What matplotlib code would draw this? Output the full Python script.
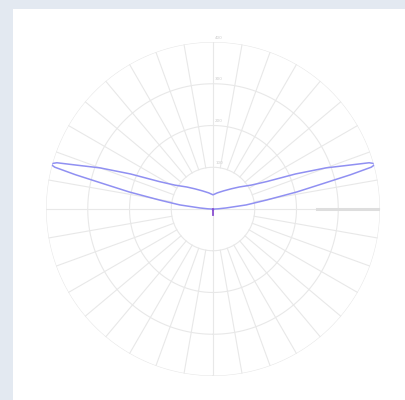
import numpy as np
import matplotlib
matplotlib.use("Agg")
import matplotlib.pyplot as plt

# light distribution, gamma measured from straight down (deg) -> intensity
gamma = [0, 30, 60, 85, 90, 92, 94.5, 97, 99.5, 101.5, 103, 104, 104.8, 105.5, 106.5,
         108, 110, 113, 117, 122, 130, 138, 150, 165, 180]
intensity = [2, 2, 2, 2, 3, 12, 31, 80, 130, 205, 270, 340, 392, 405, 390,
             338, 288, 215, 145, 108, 82, 65, 50, 40, 34]
ring_values = [100, 200, 300, 400]
ring_labels = ["100", "200", "300", "400"]

fig = plt.figure(figsize=(4.05, 4.00), dpi=100)
fig.patch.set_facecolor("#e3e9f1")
# white panel
panel = fig.add_axes([13 / 405, 0, 1 - 13 / 405, 1 - 9 / 400])
panel.set_facecolor("white")
panel.set_xticks([])
panel.set_yticks([])
for s in panel.spines.values():
    s.set_visible(False)

ax = fig.add_axes([0.1136, 0.06, 0.8247, 0.835], projection="polar")
ax.set_theta_zero_location("S")
ax.set_ylim(0, 400)
ax.grid(False)
ax.set_xticks([])
ax.set_yticks([])
ax.spines["polar"].set_visible(False)
ax.patch.set_alpha(0)

gc = "#e8e8e8"
t = np.linspace(0, 2 * np.pi, 361)
for r in ring_values:
    ax.plot(t, np.full_like(t, r), color=gc, lw=0.8, zorder=1)
for a in range(0, 360, 10):
    r0 = 0 if a % 90 == 0 else ring_values[0]
    ax.plot([np.radians(a)] * 2, [r0, 400], color=gc, lw=0.8, zorder=1)
# darker section of horizontal axis on the right
ax.plot([np.radians(90)] * 2, [250, 400], color="#dedede", lw=2.2, zorder=1)

for r, lab in zip(ring_values, ring_labels):
    ax.text(np.radians(180) - 0.012 * 400 / r, r + 6, lab, fontsize=3, color="#cccccc",
            ha="left", va="bottom", zorder=2)

g = np.radians(gamma)
iv = np.array(intensity, dtype=float)
theta = np.concatenate([g, 2 * np.pi - g[::-1]])
rr = np.concatenate([iv, iv[::-1]])
ax.plot(theta, rr, color="#9090f2", lw=1.1, zorder=3, solid_joinstyle="round")
ax.plot([0, 0], [0, 14], color="#8a4fd0", lw=1.3, zorder=4)

fig.savefig("out.png", dpi=100)
